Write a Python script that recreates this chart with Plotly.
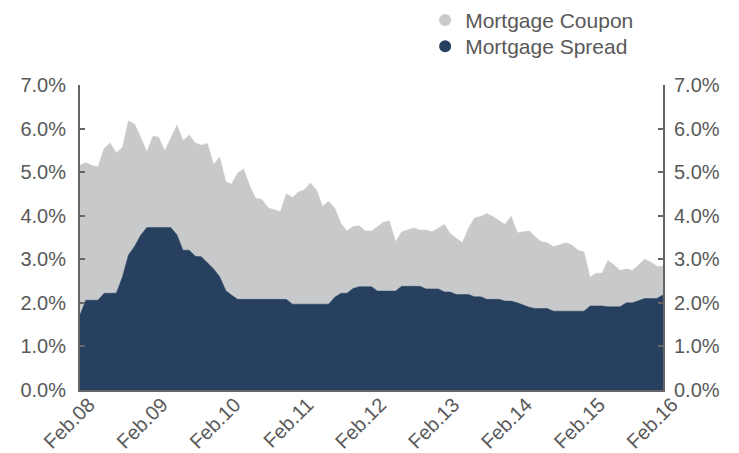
import pandas as pd
import plotly.graph_objects as go

months = pd.date_range("2008-02-01", "2016-02-01", freq="MS").strftime("%Y-%m-%d").tolist()

coupon = [5.16, 5.22, 5.15, 5.12, 5.54, 5.67, 5.44, 5.57, 6.18, 6.10,
          5.80, 5.47, 5.83, 5.80, 5.49, 5.78, 6.08, 5.72, 5.85, 5.67,
          5.62, 5.66, 5.18, 5.34, 4.78, 4.72, 4.98, 5.07, 4.68, 4.40,
          4.37, 4.18, 4.13, 4.09, 4.50, 4.42, 4.55, 4.59, 4.75, 4.59,
          4.22, 4.33, 4.17, 3.82, 3.65, 3.75, 3.77, 3.65, 3.65, 3.75,
          3.85, 3.88, 3.40, 3.63, 3.68, 3.72, 3.67, 3.67, 3.63, 3.71,
          3.80, 3.59, 3.48, 3.38, 3.71, 3.95, 3.98, 4.05, 3.98, 3.88,
          3.80, 3.99, 3.61, 3.63, 3.65, 3.52, 3.40, 3.38, 3.29, 3.33,
          3.38, 3.33, 3.21, 3.17, 2.58, 2.68, 2.68, 2.97, 2.87, 2.74,
          2.78, 2.74, 2.87, 3.00, 2.94, 2.84, 2.84]

spread = [1.72, 2.06, 2.06, 2.06, 2.22, 2.22, 2.22, 2.60, 3.10, 3.30,
          3.55, 3.73, 3.73, 3.73, 3.73, 3.73, 3.56, 3.21, 3.21, 3.07,
          3.06, 2.92, 2.78, 2.60, 2.28, 2.18, 2.08, 2.08, 2.08, 2.08,
          2.08, 2.08, 2.08, 2.08, 2.08, 1.97, 1.97, 1.97, 1.97, 1.97,
          1.97, 1.97, 2.13, 2.22, 2.22, 2.33, 2.37, 2.37, 2.37, 2.27,
          2.27, 2.27, 2.27, 2.38, 2.38, 2.38, 2.38, 2.32, 2.32, 2.32,
          2.25, 2.25, 2.19, 2.19, 2.19, 2.14, 2.14, 2.08, 2.08, 2.08,
          2.04, 2.04, 2.00, 1.95, 1.90, 1.87, 1.87, 1.87, 1.81, 1.81,
          1.81, 1.81, 1.81, 1.81, 1.93, 1.93, 1.93, 1.91, 1.91, 1.91,
          2.00, 2.00, 2.05, 2.10, 2.10, 2.10, 2.18]

tick_dates = ["2008-02-01", "2009-02-01", "2010-02-01", "2011-02-01", "2012-02-01",
              "2013-02-01", "2014-02-01", "2015-02-01", "2016-02-01"]
tick_labels = ["Feb.08", "Feb.09", "Feb.10", "Feb.11", "Feb.12",
               "Feb.13", "Feb.14", "Feb.15", "Feb.16"]
y_ticks = [0, 1, 2, 3, 4, 5, 6, 7]
y_labels = ["0.0%", "1.0%", "2.0%", "3.0%", "4.0%", "5.0%", "6.0%", "7.0%"]

GRAY = "#c8c9cb"
NAVY = "#27405f"
AXIS = "#666666"
TEXT = "#595959"

fig = go.Figure()
fig.add_trace(go.Scatter(x=months, y=coupon, mode="lines", fill="tozeroy",
                         line=dict(color=GRAY, width=0.5), fillcolor=GRAY,
                         showlegend=False, hoverinfo="skip"))
fig.add_trace(go.Scatter(x=months, y=spread, mode="lines", fill="tozeroy",
                         line=dict(color=NAVY, width=0.5), fillcolor=NAVY,
                         showlegend=False, hoverinfo="skip"))
# legend entries with circle markers (one legend per row)
fig.add_trace(go.Scatter(x=[None], y=[None], mode="markers", name="Mortgage Coupon",
                         marker=dict(color=GRAY, size=17, symbol="circle"), legend="legend"))
fig.add_trace(go.Scatter(x=[None], y=[None], mode="markers", name="Mortgage Spread",
                         marker=dict(color=NAVY, size=17, symbol="circle"), legend="legend2"))
# invisible trace for right axis
fig.add_trace(go.Scatter(x=[months[0]], y=[0], mode="markers", yaxis="y2",
                         marker=dict(opacity=0), showlegend=False, hoverinfo="skip"))

FAM = "Liberation Sans, Arial, sans-serif"
font = dict(family=FAM, size=20, color=TEXT)
lfont = dict(family=FAM, size=21, color=TEXT)

fig.update_layout(
    width=739, height=453,
    margin=dict(l=72, r=84, t=77, b=71, autoexpand=False),
    paper_bgcolor="white", plot_bgcolor="white",
    font=font,
    showlegend=True,
    legend=dict(x=0.592, y=1.279, xanchor="left", yanchor="top", font=lfont,
                itemsizing="constant", bgcolor="rgba(0,0,0,0)"),
    legend2=dict(x=0.592, y=1.193, xanchor="left", yanchor="top", font=lfont,
                 itemsizing="constant", bgcolor="rgba(0,0,0,0)"),
    xaxis=dict(range=[months[0], months[-1]], tickvals=tick_dates, ticktext=tick_labels,
               tickangle=-45, showgrid=False, zeroline=False, showline=True,
               linecolor=AXIS, linewidth=2, ticks="", tickfont=font,
               ticklabelshift=9, ticklabelstandoff=-7, automargin=False),
    yaxis=dict(range=[0, 7], tickvals=y_ticks, ticktext=y_labels,
               showgrid=False, zeroline=False, showline=True, linecolor=AXIS, linewidth=2,
               ticks="inside", ticklen=5, tickwidth=2, tickcolor=AXIS, tickfont=font,
               ticklabelstandoff=8, automargin=False),
    yaxis2=dict(range=[0, 7], tickvals=y_ticks, ticktext=y_labels,
                overlaying="y", side="right", showgrid=False, zeroline=False,
                showline=True, linecolor=AXIS, linewidth=2,
                ticks="inside", ticklen=5, tickwidth=2, tickcolor=AXIS, tickfont=font,
                ticklabelstandoff=5, automargin=False),
)

fig.write_html("out.html")
